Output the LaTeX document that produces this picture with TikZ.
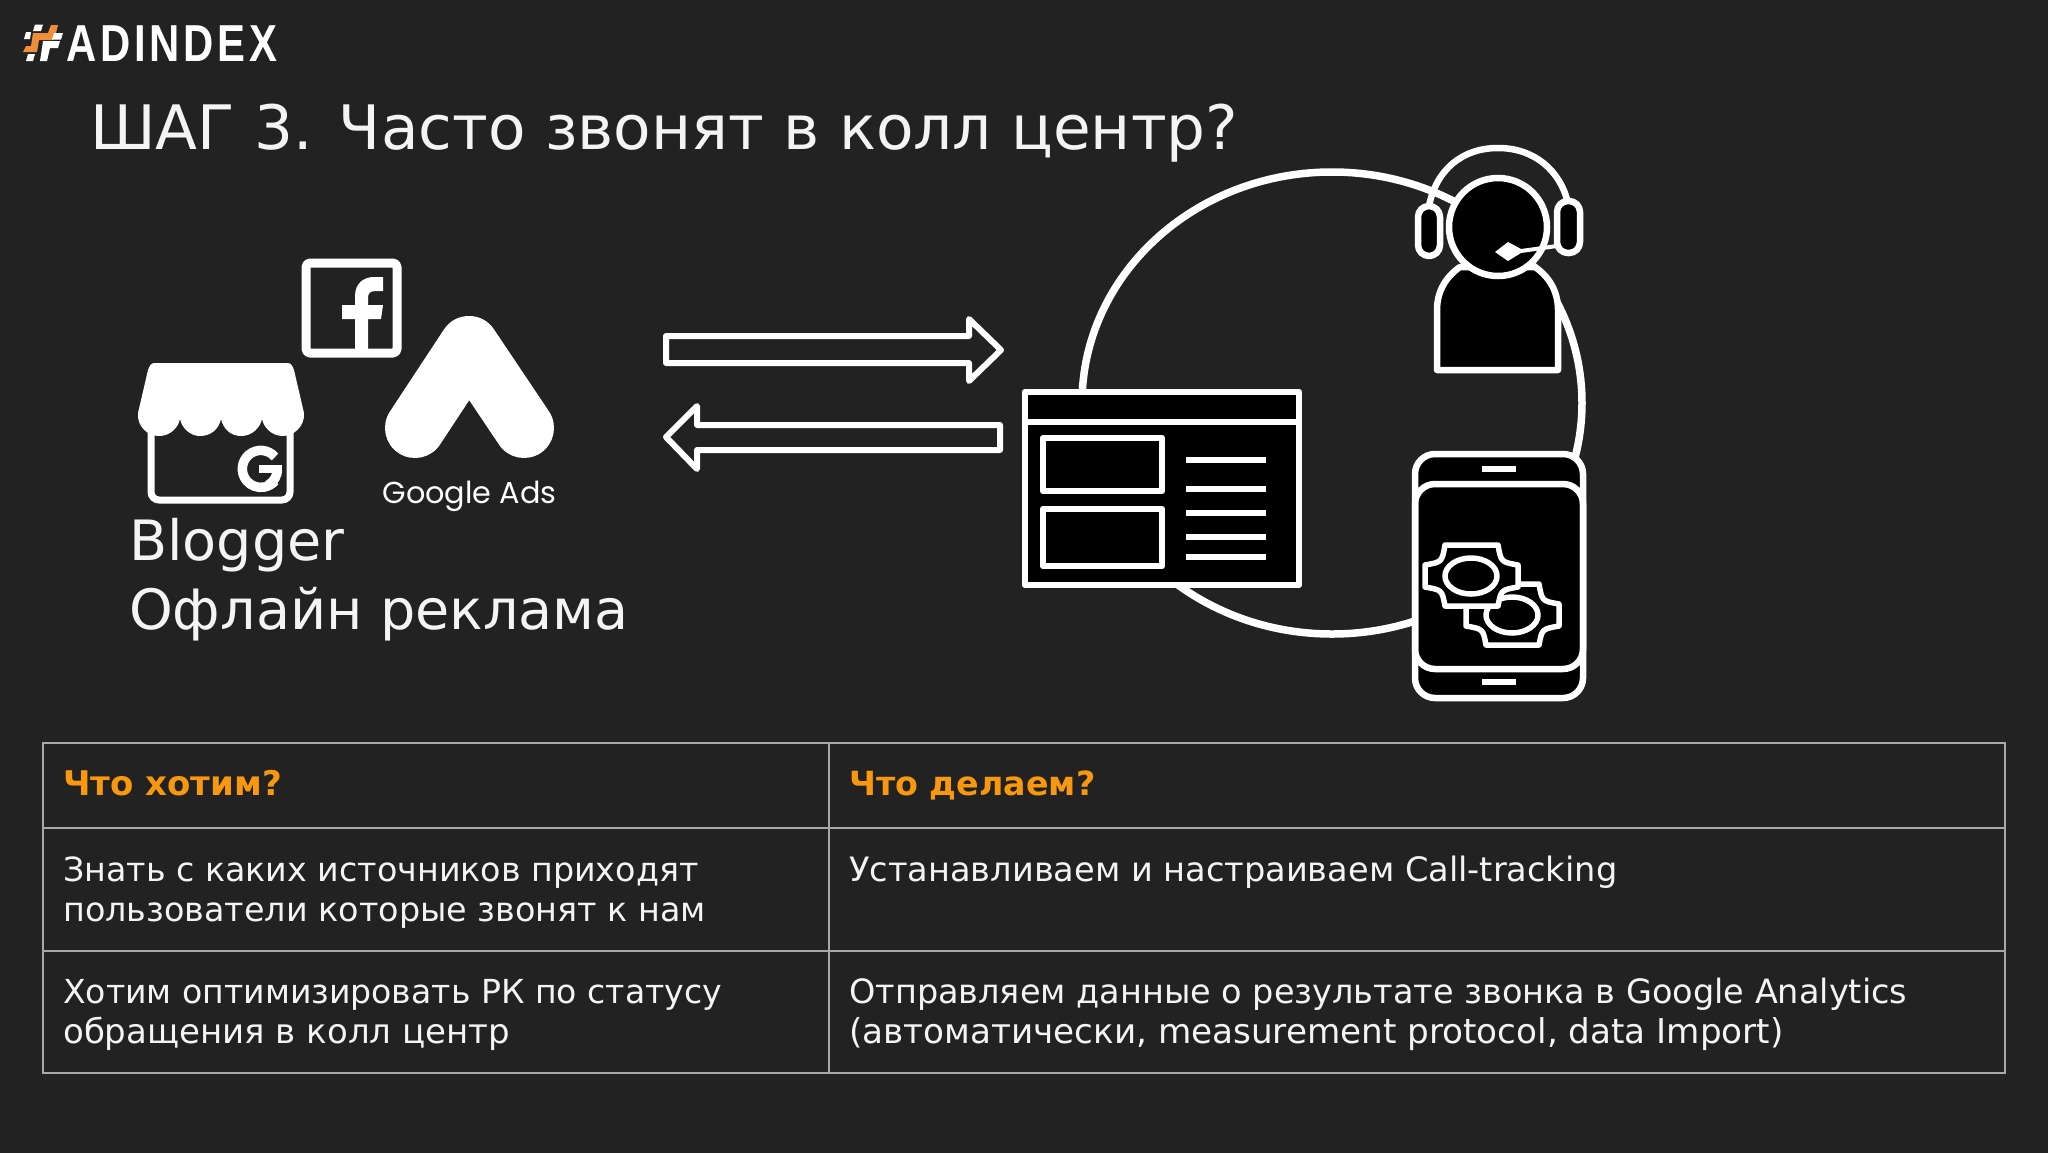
\documentclass[tikz,border=0pt]{standalone}
\usepackage{fontspec}
\setmainfont{DejaVu Sans}
\newfontfamily\logofont[LetterSpace=9]{Liberation Sans}
\newfontfamily\adsfont{Poppins}
\definecolor{bgc}{HTML}{232223}
\definecolor{orng}{HTML}{F7980F}
\definecolor{hashc}{HTML}{EE8E3A}
\definecolor{gridc}{HTML}{A8A8A8}
\definecolor{txtc}{HTML}{F4F4F4}
\tikzset{
 ln/.style={draw=white,line width=6.5pt,line join=round},
 blk/.style={ln,fill=black},
 arrowbox/.style={draw=white,line width=6pt,line join=round},
 slab/.style={draw=white,line width=6pt},
 grid/.style={draw=gridc,line width=1.8pt},
 cell/.style={anchor=base west,inner sep=0pt,text=txtc},
 head/.style={anchor=base west,inner sep=0pt,text=orng},
 big/.style={anchor=base west,inner sep=0pt,text=txtc}
}
\newcommand{\fsz}[1]{\fontsize{#1}{41}\selectfont}
\newcommand{\gearshape}{(1445,545) -- (1498,545) .. controls (1501,562) .. (1518,565) -- (1518,587) .. controls (1501,590) .. (1498,606) -- (1445,606) .. controls (1442,590) .. (1425,587) -- (1425,565) .. controls (1442,562) .. (1445,545) -- cycle}
\begin{document}
\begin{tikzpicture}[x=1pt,y=-1pt]
\useasboundingbox (0,0) rectangle (2048,1152);
\fill[bgc] (-5,-5) rectangle (2053,1157);
% logo
\fill[hashc] (51,25) -- (58,25) -- (56,33) -- (53,40) -- (39,40) -- (37,52) -- (23,52) -- (26,46) -- (31,46) -- (33,33) -- (48,33) -- cycle;
\fill[white] (35,24.5) -- (43,24.5) -- (41,31) -- (33,31) -- cycle;
\fill[white] (26,32) -- (31,32) -- (30,39) -- (24,39) -- cycle;
\fill[white] (54,33) -- (63,33) -- (61,39.5) -- (52,39.5) -- cycle;
\fill[white] (43,41) -- (60,41) -- (58,48) -- (50,48) -- (47,61) -- (40,61) -- (42,48) -- cycle;
\fill[white] (28,54) -- (35,54) -- (33,61) -- (26,61) -- cycle;
\node[anchor=base west,inner sep=0pt,text=white,xscale=0.805,transform shape] (logo) at (66,61) {\logofont\bfseries\fontsize{52}{52}\selectfont ADINDEX};
% title
\node[big,font=\fontsize{61.3}{70}\selectfont] (title) at (90,149) {ШАГ 3. Часто звонят в колл центр?};
% facebook
\draw[ln,line width=9pt,rounded corners=4pt] (306,263) rectangle (397,353);
\fill[white] (355,350) -- (355,319) -- (342,319) -- (342,305) -- (355,305) -- (355,296) .. controls (355,283) and (364,277) .. (374,277) -- (383,277) -- (383,291) -- (376,291) .. controls (370,291) and (368,293) .. (368,298) -- (368,305) -- (383,305) -- (381,319) -- (368,319) -- (368,350) -- cycle;
% store
\draw[draw=white,line width=7pt,rounded corners=8pt] (151,425) -- (151,500) -- (290,500) -- (290,425);
\fill[white] (155,363) -- (287,363) .. controls (291,363) and (292,365) .. (294,370) -- (304,413) .. controls (305,427) and (293,436) .. (283,436) .. controls (272,436) and (264,428) .. (262,419) .. controls (260,428) and (252,436) .. (241,436) .. controls (230,436) and (223,428) .. (221,419) .. controls (219,428) and (212,436) .. (200,436) .. controls (190,436) and (182,428) .. (180,419) .. controls (178,428) and (170,436) .. (159,436) .. controls (148,436) and (137,427) .. (138,413) -- (148,370) .. controls (150,365) and (151,363) .. (155,363) -- cycle;
\draw[white,line width=9.5pt] (275,457) arc (-40:-320:18.5 and 18.5);
\fill[white] (259,465) rectangle (282,473);
\draw[white,line width=9.5pt] (277.5,469) arc (0:60:18.5 and 18.5);
% google ads
\draw[white,line width=60pt,line cap=round,line join=round] (415,428) -- (469,346) -- (524,428);
\node[anchor=base,inner sep=0pt,text=white,font=\adsfont\fontsize{30.3}{31}\selectfont] (ads) at (469.5,503) {Google Ads};
\node[big,font=\fontsize{55.6}{66}\selectfont] (blg) at (129,560) {Blogger};
\node[big,font=\fontsize{55.6}{66}\selectfont] (off) at (129,629) {Офлайн реклама};
% arrows
\draw[arrowbox] (666,336) -- (969,336) -- (969,319) -- (1001,350) -- (969,381) -- (969,363) -- (666,363) -- cycle;
\draw[arrowbox] (1000,425) -- (697,425) -- (697,406) -- (666,437) -- (697,469) -- (697,450) -- (1000,450) -- cycle;
% big circle
\draw[white,line width=7.5pt] (1332,403) ellipse (250 and 231);
% window
\draw[blk] (1025,392) rectangle (1299,585);
\draw[slab] (1025,422) -- (1299,422);
\draw[ln] (1043,438) rectangle (1162,491);
\draw[ln] (1043,509) rectangle (1162,566);
\foreach \yy in {460,489,513,537,557} \draw[slab] (1186,\yy) -- (1266,\yy);
% agent
\draw[blk] (1437,370) -- (1437,310) .. controls (1437,290) and (1447,276) .. (1460,267) -- (1535,267) .. controls (1548,276) and (1558,290) .. (1558,310) -- (1558,370) -- cycle;
\draw[ln] (1429,206) .. controls (1436,170) and (1462,148) .. (1498,148) .. controls (1534,148) and (1560,170) .. (1568,203);
\draw[blk,rounded corners=11pt] (1418,206) rectangle (1440,256);
\draw[blk,rounded corners=11pt] (1557,201) rectangle (1580,253);
\draw[blk] (1498,227) circle (49);
\fill[white] (1495,252) -- (1508,242) -- (1521,249) -- (1557,244) -- (1557,248) -- (1521,253) -- (1508,261) -- cycle;
% phone
\draw[blk,rounded corners=20pt] (1415,454) rectangle (1583,698);
\draw[ln,rounded corners=20pt] (1415,484) rectangle (1583,669);
\draw[slab] (1482,469) -- (1516,469);
\draw[slab] (1482,682) -- (1516,682);
\begin{scope}[shift={(41,39)}]
\draw[blk,line width=5.5pt] \gearshape;
\draw[ln,line width=5.5pt] (1471,576) ellipse (26 and 18);
\end{scope}
\draw[blk,line width=5.5pt] \gearshape;
\draw[ln,line width=5.5pt] (1471,576) ellipse (26 and 18);
% table
\draw[grid] (43,743) rectangle (2005,1073);
\draw[grid] (43,828) -- (2005,828);
\draw[grid] (43,951) -- (2005,951);
\draw[grid] (829,743) -- (829,1073);
\node[head,font=\fsz{34}\bfseries] (h1) at (63,795) {Что хотим?};
\node[head,font=\fsz{33.3}\bfseries] (h2) at (849,795) {Что делаем?};
\node[cell,font=\fsz{33.3}] (a1) at (63,881) {Знать с каких источников приходят};
\node[cell,font=\fsz{33.4}] (a2) at (63,921) {пользователи которые звонят к нам};
\node[cell,font=\fsz{33.6}] (b1) at (849,881) {Устанавливаем и настраиваем Call-tracking};
\node[cell,font=\fsz{33.1}] (c1) at (63,1003) {Хотим оптимизировать РК по статусу};
\node[cell,font=\fsz{34}] (c2) at (63,1043) {обращения в колл центр};
\node[cell,font=\fsz{33.5}] (d1) at (849,1003) {Отправляем данные о результате звонка в Google Analytics};
\node[cell,font=\fsz{34.2}] (d2) at (849,1043) {(автоматически, measurement protocol, data Import)};
\end{tikzpicture}
\end{document}
